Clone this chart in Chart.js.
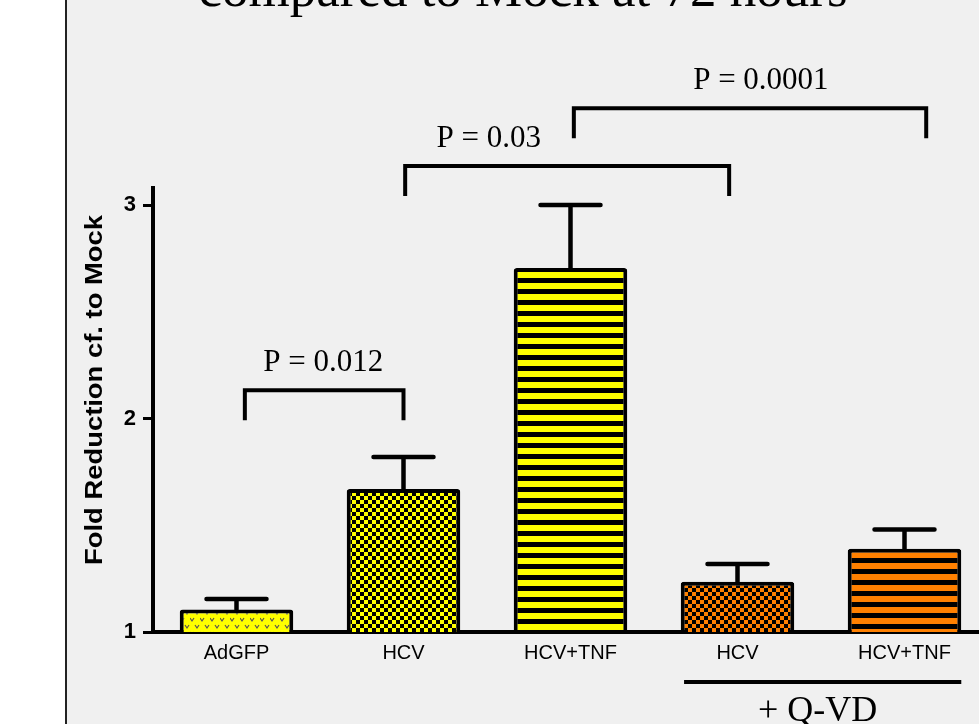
<!DOCTYPE html>
<html>
<head>
<meta charset="utf-8">
<script src="https://cdn.jsdelivr.net/npm/chart.js@4"></script>
<style>
html, body { margin: 0; padding: 0; overflow: hidden; background: #f0f0f0; }
canvas { display: block; }
</style>
</head>
<body>
<canvas id="grafica" width="1000" height="724"></canvas>
<script>
// datos
const categorias = ["AdGFP", "HCV", "HCV+TNF", "HCV", "HCV+TNF"];
const valores = [1.105, 1.67, 2.705, 1.235, 1.39];
const errores = [0.05, 0.15, 0.295, 0.083, 0.09];
const marcasY = [1, 2, 3];

// comparaciones (en unidades de categoria / eje y)
const pTextos = ["P = 0.012", "P = 0.03", "P = 0.0001"];
const pDesde = [0.05, 1.01, 2.02];
const pHasta = [1.0, 2.95, 4.13];
const pNivel = [2.133, 3.183, 3.454];
const pTextoX = [0.52, 1.51, 3.14];

const titulo = "compared to Mock at 72 hours";
const tituloY = "Fold Reduction cf. to Mock";
const grupoTexto = "+ Q-VD";

const amarillo = "#ffff00";
const naranja = "#ff8000";

function patron(tipo, color, fase) {
  const c = document.createElement("canvas");
  const g = c.getContext("2d");
  if (tipo == "cuadros") {
    c.width = 8; c.height = 8;
    g.fillStyle = color; g.fillRect(0, 0, 8, 8);
    g.fillStyle = "#000";
    g.fillRect(0, 0, 4, 4);
    g.fillRect(4, 4, 4, 4);
  } else if (tipo == "rayas") {
    c.width = 8; c.height = 11;
    g.fillStyle = "#000"; g.fillRect(0, 0, 8, 11);
    g.fillStyle = color;
    for (let r = 0; r < 11; r++) {
      if (((r - fase) % 11 + 11) % 11 < 6) g.fillRect(0, r, 8, 1);
    }
  } else {
    c.width = 10; c.height = 14;
    g.fillStyle = color; g.fillRect(0, 0, 10, 14);
    g.strokeStyle = "#555"; g.lineWidth = 1.2;
    [[2, 2], [7, 9]].forEach(function (p) {
      g.beginPath();
      g.moveTo(p[0] - 2, p[1]);
      g.lineTo(p[0], p[1] + 3);
      g.lineTo(p[0] + 2, p[1]);
      g.stroke();
    });
  }
  return g.createPattern(c, "repeat");
}

const rellenos = [
  patron("v", amarillo, 0),
  patron("cuadros", amarillo, 0),
  patron("rayas", amarillo, 8),
  patron("cuadros", naranja, 0),
  patron("rayas", naranja, 2)
];

const fondo = {
  id: "fondo",
  beforeDraw(chart) {
    const ctx = chart.ctx;
    ctx.save();
    ctx.fillStyle = "#f0f0f0";
    ctx.fillRect(0, 0, chart.width, chart.height);
    ctx.fillStyle = "#ffffff";
    ctx.fillRect(0, 0, 65, chart.height);
    ctx.fillStyle = "#222";
    ctx.fillRect(65, 0, 2, chart.height);
    ctx.restore();
  }
};

const barrasError = {
  id: "barrasError",
  afterDatasetsDraw(chart) {
    const ctx = chart.ctx;
    const y = chart.scales.y;
    const meta = chart.getDatasetMeta(0);
    ctx.save();
    ctx.strokeStyle = "#000";
    ctx.lineWidth = 4.5;
    ctx.lineCap = "round";
    meta.data.forEach(function (barra, i) {
      const arriba = y.getPixelForValue(valores[i] + errores[i]);
      ctx.beginPath();
      ctx.moveTo(barra.x, barra.y);
      ctx.lineTo(barra.x, arriba);
      ctx.moveTo(barra.x - 30, arriba);
      ctx.lineTo(barra.x + 30, arriba);
      ctx.stroke();
    });
    ctx.restore();
  }
};

const anotaciones = {
  id: "anotaciones",
  afterDraw(chart) {
    const ctx = chart.ctx;
    const x = chart.scales.x;
    const y = chart.scales.y;
    ctx.save();
    ctx.fillStyle = "#000";
    ctx.strokeStyle = "#000";
    ctx.lineWidth = 4;

    // corchetes con valores P
    ctx.font = "31px 'Liberation Serif'";
    ctx.textAlign = "center";
    ctx.textBaseline = "alphabetic";
    pTextos.forEach(function (t, i) {
      const x1 = x.getPixelForValue(pDesde[i]);
      const x2 = x.getPixelForValue(pHasta[i]);
      const yy = y.getPixelForValue(pNivel[i]);
      ctx.beginPath();
      ctx.moveTo(x1, yy + 30);
      ctx.lineTo(x1, yy);
      ctx.lineTo(x2, yy);
      ctx.lineTo(x2, yy + 30);
      ctx.stroke();
      ctx.fillText(t, x.getPixelForValue(pTextoX[i]), yy - 19);
    });

    // grupo + Q-VD
    const g1 = x.getPixelForValue(2.68);
    const g2 = x.getPixelForValue(4.34);
    const gy = y.getPixelForValue(0.766);
    ctx.beginPath();
    ctx.moveTo(g1, gy);
    ctx.lineTo(g2, gy);
    ctx.stroke();
    ctx.font = "36px 'Liberation Serif'";
    ctx.fillText(grupoTexto, x.getPixelForValue(3.48), y.getPixelForValue(0.583));

    // titulo (cortado arriba)
    ctx.font = "53px 'Liberation Serif'";
    ctx.fillText(titulo, 523, 6);

    // titulo del eje y
    ctx.translate(95, 390);
    ctx.rotate(-Math.PI / 2);
    ctx.font = "bold 24px 'Liberation Sans'";
    const ancho = ctx.measureText(tituloY).width;
    ctx.scale(350 / ancho, 1);
    ctx.textBaseline = "middle";
    ctx.fillText(tituloY, 0, 0);
    ctx.restore();
  }
};

const config = {
  type: "bar",
  data: {
    labels: categorias,
    datasets: [
      {
        data: valores,
        backgroundColor: rellenos,
        borderColor: "#000",
        borderWidth: 4,
        borderRadius: 3,
        borderSkipped: false,
        categoryPercentage: 1,
        barPercentage: 0.68
      }
    ]
  },
  options: {
    responsive: false,
    animation: false,
    layout: { padding: { top: 188, right: 12, left: 0, bottom: 0 } },
    plugins: { legend: { display: false }, tooltip: { enabled: false } },
    scales: {
      x: {
        grid: { display: false, drawTicks: false },
        border: { color: "#000", width: 4 },
        ticks: { color: "#000", font: { family: "Liberation Sans", size: 20 }, padding: 9 },
        afterFit: function (s) { s.height = 92; }
      },
      y: {
        min: 1,
        max: 3.08,
        afterBuildTicks: function (s) { s.ticks = marcasY.map(function (v) { return { value: v }; }); },
        grid: { drawOnChartArea: false, color: "#000", lineWidth: 3, tickLength: 10 },
        border: { color: "#000", width: 4 },
        ticks: { color: "#000", font: { family: "Liberation Sans", size: 22, weight: "bold" }, padding: 7 },
        afterFit: function (s) { s.width = 153; }
      }
    }
  },
  plugins: [fondo, barrasError, anotaciones]
};

new Chart(document.getElementById("grafica"), config);
</script>
</body>
</html>
